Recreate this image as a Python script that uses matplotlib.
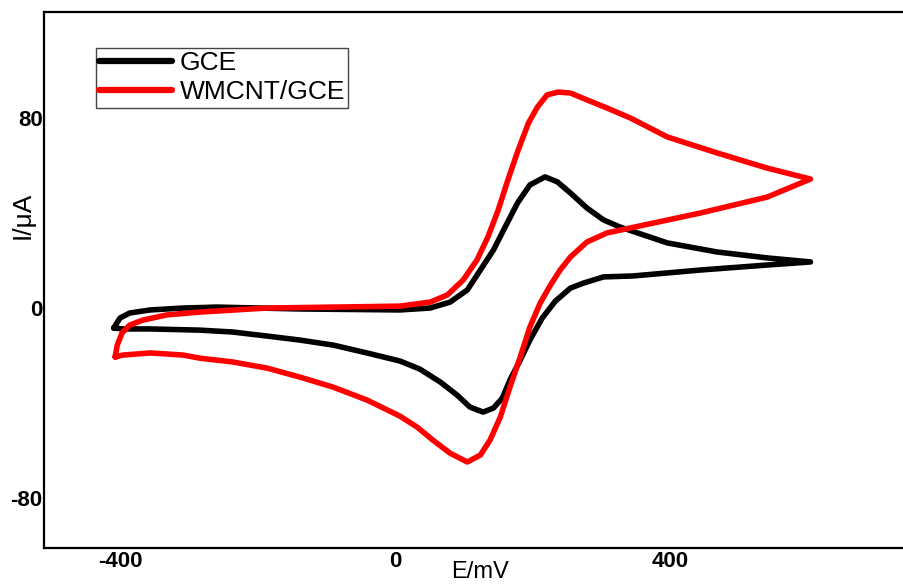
import matplotlib
matplotlib.use("Agg")
import matplotlib.pyplot as plt

# GCE (black) closed CV loop: forward (upper) branch, then reverse (lower) branch
gce_E = [-409, -400, -386, -356, -308, -259, -138, 7, 51, 80, 105, 124, 143, 160, 178, 196, 218,
         236, 255, 279, 303, 327, 396, 468, 541, 604,
         541, 444, 346, 303, 274, 255, 233, 214, 196, 182, 167, 156, 143, 128, 109, 90, 66, 36,
         7, -41, -90, -138, -186, -236, -284, -356, -396, -409]
gce_I = [-8.4, -4.2, -2.1, -0.8, 0.0, 0.4, -0.4, -0.8, 0.0, 2.5, 7.6, 16.0, 24.4, 34.1, 44.2,
         51.8, 55.2, 53.1, 48.4, 42.1, 37.1, 34.1, 27.4, 23.6, 21.1, 19.4,
         18.1, 16.0, 13.5, 13.1, 10.5, 8.4, 2.9, -4.2, -13.5, -21.9, -30.3, -37.9, -42.1, -43.8,
         -41.7, -36.6, -31.2, -25.7, -22.3, -18.9, -15.6, -13.5, -11.8, -10.1, -9.3, -8.8, -8.8,
         -8.4]

# WMCNT/GCE (red) closed CV loop
mw_E = [-407, -404, -397, -386, -367, -332, -284, -186, -90, 7, 51, 76, 99, 119, 135, 150, 164,
        179, 194, 207, 221, 237, 255, 279, 308, 342, 396, 468, 541, 604,
        541, 444, 342, 308, 279, 255, 240, 226, 211, 196, 182, 167, 153, 138, 124, 105, 80, 55,
        32, 7, -41, -90, -138, -186, -236, -284, -308, -356, -396, -407]
mw_I = [-20.6, -15.6, -10.5, -7.2, -5.1, -2.9, -1.7, 0.0, 0.4, 0.8, 2.5, 5.5, 11.8, 20.2, 29.9,
        41.3, 53.9, 66.5, 77.9, 84.6, 89.7, 90.9, 90.5, 87.6, 84.2, 80.0, 72.0, 65.3, 58.9, 54.3,
        46.7, 40.0, 33.7, 31.6, 27.8, 21.5, 16.0, 9.7, 2.1, -8.0, -20.6, -33.3, -45.9, -55.6,
        -61.9, -64.8, -61.1, -55.6, -50.1, -45.5, -38.7, -33.3, -29.1, -25.3, -22.7, -21.1,
        -19.8, -18.9, -19.8, -20.6]

series_labels = ["GCE", "WMCNT/GCE"]
x_ticks = [-400, 0, 400]
y_ticks = [-80, 0, 80]

plt.rcParams['font.family'] = ['Liberation Sans', 'DejaVu Sans']

W, H = 904, 586
fig = plt.figure(figsize=(W / 100, H / 100), dpi=100)
ax = fig.add_axes([44 / W, 38 / H, (W - 44) / W, (548 - 12) / H])

ax.plot(gce_E, gce_I, color='black', lw=4, solid_joinstyle='round', solid_capstyle='round',
        label=series_labels[0])
ax.plot(mw_E, mw_I, color='#ff0000', lw=4, solid_joinstyle='round', solid_capstyle='round',
        label=series_labels[1])

ax.set_xlim(-510.5, 740)
ax.set_ylim(-101, 124.6)
ax.set_xticks(x_ticks)
ax.set_yticks(y_ticks)
ax.set_xticklabels([str(v) for v in x_ticks], fontsize=16, fontweight='bold')
ax.set_yticklabels([str(v) for v in y_ticks], fontsize=16, fontweight='bold')
ax.tick_params(axis='both', length=0)
ax.tick_params(axis='x', pad=2)
ax.tick_params(axis='y', pad=1)

for s in ['left', 'bottom', 'top']:
    ax.spines[s].set_linewidth(1.6)
ax.spines['right'].set_visible(False)

ax.set_xlabel("E/mV", fontsize=17)
ax.xaxis.set_label_coords((480 - 44) / 860, (548 - 561) / 536)
ax.set_ylabel("I/μA", fontsize=19)
ax.yaxis.set_label_coords((35 - 44) / 860, (548 - 215) / 536)

leg = ax.legend(loc='upper left', bbox_to_anchor=(96 / W, 1 - 48 / H),
                bbox_transform=fig.transFigure, borderaxespad=0, fontsize=19,
                frameon=True, fancybox=False, edgecolor='#444444', framealpha=1,
                borderpad=0.12, labelspacing=0.2, handlelength=2.75, handletextpad=0.3)
leg.get_frame().set_linewidth(1.0)
for line in leg.get_lines():
    line.set_linewidth(4.5)

fig.savefig("out.png", dpi=100)
